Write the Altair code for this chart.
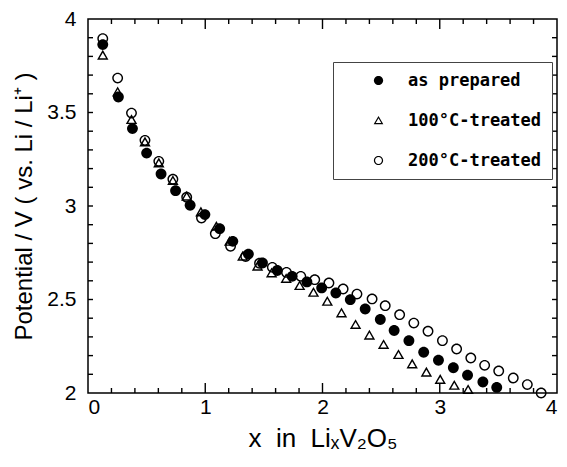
import altair as alt
import pandas as pd

# ---- data ----
series_names = ["as prepared", "100°C-treated", "200°C-treated"]

ap_x = [0.126, 0.259, 0.379, 0.500, 0.623, 0.747, 0.871, 0.997, 1.123, 1.235,
        1.368, 1.488, 1.614, 1.741, 1.867, 1.993, 2.114, 2.237, 2.364, 2.493,
        2.611, 2.737, 2.863, 2.989, 3.116, 3.237, 3.368, 3.486]
ap_y = [3.863, 3.583, 3.414, 3.283, 3.171, 3.082, 3.004, 2.954, 2.879, 2.811,
        2.743, 2.695, 2.655, 2.624, 2.594, 2.562, 2.535, 2.499, 2.449, 2.393,
        2.334, 2.280, 2.218, 2.175, 2.135, 2.095, 2.059, 2.030]

t100_x = [0.126, 0.253, 0.371, 0.486, 0.604, 0.724, 0.842, 0.963, 1.095, 1.208,
          1.320, 1.446, 1.566, 1.690, 1.805, 1.923, 2.041, 2.162, 2.282, 2.400,
          2.521, 2.648, 2.765, 2.886, 3.004, 3.124, 3.242]
t100_y = [3.806, 3.610, 3.462, 3.342, 3.230, 3.136, 3.052, 2.968, 2.891, 2.811,
          2.731, 2.678, 2.642, 2.612, 2.574, 2.538, 2.490, 2.428, 2.366, 2.309,
          2.259, 2.205, 2.155, 2.111, 2.072, 2.041, 2.018]

t200_x = [0.126, 0.253, 0.371, 0.486, 0.604, 0.724, 0.842, 0.968, 1.086, 1.216,
          1.345, 1.463, 1.572, 1.693, 1.815, 1.934, 2.055, 2.176, 2.294, 2.423,
          2.535, 2.658, 2.779, 2.900, 3.023, 3.144, 3.265, 3.383, 3.503, 3.627,
          3.747, 3.865]
t200_y = [3.895, 3.684, 3.497, 3.351, 3.239, 3.143, 3.047, 2.936, 2.852, 2.785,
          2.730, 2.694, 2.672, 2.645, 2.624, 2.606, 2.588, 2.556, 2.529, 2.503,
          2.467, 2.419, 2.374, 2.330, 2.280, 2.235, 2.187, 2.148, 2.118, 2.080,
          2.045, 2.000]

x_label_values = [0, 1, 2, 3, 4]
y_label_values = [2, 2.5, 3, 3.5, 4]
x_major_ticks = [1, 2, 3]
x_minor_ticks = [0.2, 0.4, 0.6, 0.8, 1.2, 1.4, 1.6, 1.8, 2.2, 2.4, 2.6, 2.8,
                 3.2, 3.4, 3.6, 3.8]
y_ticks = [2.1, 2.2, 2.3, 2.4, 2.5, 2.6, 2.7, 2.8, 2.9, 3.0, 3.1, 3.2, 3.3,
           3.4, 3.5, 3.6, 3.7, 3.8, 3.9]

# draw order: filled first, then open circles, then triangles
rows = []
for x, y in zip(ap_x, ap_y):
    rows.append({"x": x, "y": y, "s": series_names[0]})
for x, y in zip(t200_x, t200_y):
    rows.append({"x": x, "y": y, "s": series_names[2]})
for x, y in zip(t100_x, t100_y):
    rows.append({"x": x, "y": y, "s": series_names[1]})
df = pd.DataFrame(rows)

# marker shapes (unit symbol paths): filled disc, outlined triangle, ring
DISC = "M-1,0A1,1,0,1,1,1,0A1,1,0,1,1,-1,0Z"
TRI_OPEN = ("M0,-1L1.05,0.82L-1.05,0.82Z"
            "M0,-0.48L-0.6,0.56L0.6,0.56Z")
RING = ("M-1,0A1,1,0,1,1,1,0A1,1,0,1,1,-1,0Z"
        "M-0.74,0A0.74,0.74,0,1,0,0.74,0A0.74,0.74,0,1,0,-0.74,0Z")

W, H = 469, 374
FONT = "Liberation Sans"
NB = "\u00a0"

xs = alt.Scale(domain=[0, 4], nice=False, zero=False)
ys = alt.Scale(domain=[2, 4], nice=False, zero=False)

x_axis = alt.Axis(
    orient="bottom", values=x_label_values, format="d", ticks=False,
    domain=False, grid=False, labelFont=FONT, labelFontSize=21,
    labelColor="black", labelPadding=3,
    title=f"x{NB}{NB}in{NB}{NB}LiₓV₂O₅", titleFont=FONT, titleFontSize=26,
    titleFontWeight="normal", titleColor="black", titlePadding=8)
y_axis = alt.Axis(
    orient="left", values=y_label_values, format="~g", ticks=False,
    domain=False, grid=False, labelFont=FONT, labelFontSize=21,
    labelColor="black", labelPadding=12,
    title="Potential / V ( vs. Li / Li⁺ )", titleFont=FONT,
    titleFontSize=24, titleFontWeight="normal", titleColor="black",
    titlePadding=10)

main = alt.Chart(df).mark_point(
    filled=True, color="black", size=118, opacity=1
).encode(
    x=alt.X("x:Q", scale=xs, axis=x_axis),
    y=alt.Y("y:Q", scale=ys, axis=y_axis),
    shape=alt.Shape("s:N", scale=alt.Scale(
        domain=series_names, range=[DISC, TRI_OPEN, RING]),
        legend=alt.Legend(
            title=None, orient="none", legendX=245, legendY=43,
            padding=10, strokeColor="#444", fillColor="white",
            symbolSize=85, symbolFillColor="black", symbolStrokeWidth=0,
            symbolOffset=27, labelOffset=21, rowPadding=22,
            labelFont="DejaVu Sans Mono", labelFontSize=17,
            labelFontWeight="bold", labelColor="black", labelLimit=300)),
)

xmin_df = pd.DataFrame({"v": x_minor_ticks})
xmaj_df = pd.DataFrame({"v": x_major_ticks})
y_df = pd.DataFrame({"v": y_ticks})


def xticks(data, length):
    base = alt.Chart(data).mark_rule(color="black", strokeWidth=1.4)
    bottom = base.encode(
        x=alt.X("v:Q", scale=xs, axis=None),
        y=alt.value(H), y2=alt.value(H - length))
    top = base.encode(
        x=alt.X("v:Q", scale=xs, axis=None),
        y=alt.value(0), y2=alt.value(length))
    return [bottom, top]


def yticks(data, length):
    base = alt.Chart(data).mark_rule(color="black", strokeWidth=1.4)
    left = base.encode(
        y=alt.Y("v:Q", scale=ys, axis=None),
        x=alt.value(0), x2=alt.value(length))
    right = base.encode(
        y=alt.Y("v:Q", scale=ys, axis=None),
        x=alt.value(W), x2=alt.value(W - length))
    return [left, right]


layers = xticks(xmin_df, 5) + xticks(xmaj_df, 10) + yticks(y_df, 5) + [main]

chart = alt.layer(*layers).resolve_axis(
    x="independent", y="independent"
).properties(
    width=W, height=H,
    autosize=alt.AutoSizeParams(type="none"),
    padding={"left": 80, "top": 11, "right": 2, "bottom": 61},
    background="white",
).configure_view(stroke="black", strokeWidth=1.5)

chart.save("out.html", embed_options={"renderer": "svg", "actions": False})
